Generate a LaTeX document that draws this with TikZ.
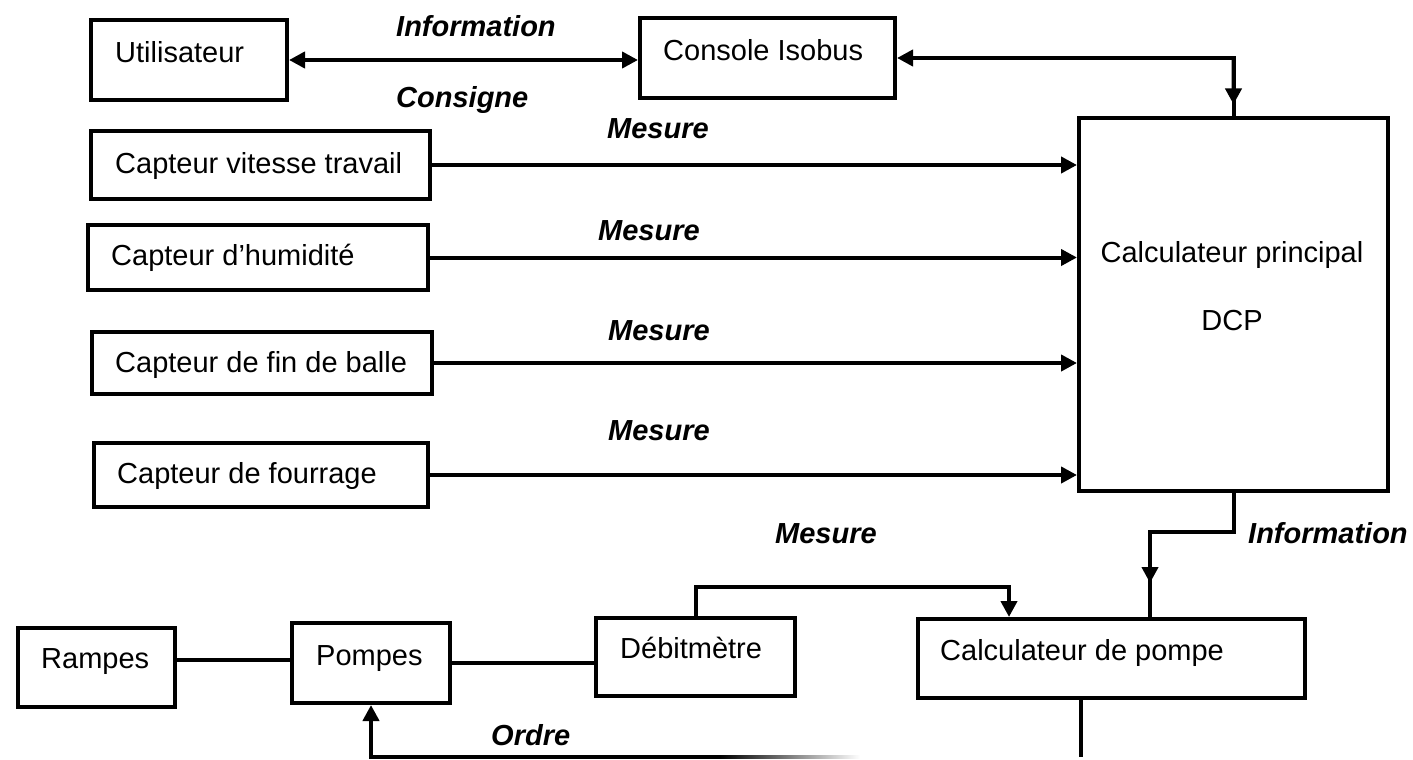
\documentclass[tikz,border=0pt]{standalone}
\usepackage{fontspec}
\setmainfont{Liberation Sans}
\usetikzlibrary{arrows.meta,calc}

\tikzset{
    boite/.style={draw, line width=4pt, inner sep=0pt},
    texte/.style={anchor=mid west, inner sep=0pt, font=\fontsize{29}{34}\selectfont},
    etiq/.style={anchor=mid west, inner sep=0pt, font=\fontsize{29}{34}\selectfont\bfseries\itshape},
    lien/.style={line width=4pt},
    fleche/.style={lien, -{Triangle[length=16pt,width=16pt]}},
    dfleche/.style={lien, {Triangle[length=16pt,width=16pt]}-{Triangle[length=16pt,width=16pt]}},
    gfleche/.style={lien, {Triangle[length=16pt,width=16pt]}-}
}

\begin{document}
\begin{tikzpicture}[x=1pt, y=-1pt]
                    \useasboundingbox (0,0) rectangle (1413,760);
                    \node[boite, minimum width=196pt, minimum height=80pt] (util) at (189,60) {};
                    \node[boite, minimum width=255pt, minimum height=80pt] (console) at (767.5,58) {};
                    \node[boite, minimum width=339pt, minimum height=68pt] (vitesse) at (260.5,165) {};
                    \node[boite, minimum width=340pt, minimum height=65pt] (humid) at (258,257.5) {};
                    \node[boite, minimum width=340pt, minimum height=62pt] (balle) at (262,363) {};
                    \node[boite, minimum width=334pt, minimum height=64pt] (fourrage) at (261,475) {};
                    \node[boite, minimum width=309pt, minimum height=373pt] (dcp) at (1233.5,304.5) {};
                    \node[boite, minimum width=157pt, minimum height=79pt] (rampes) at (96.5,667.5) {};
                    \node[boite, minimum width=158pt, minimum height=80pt] (pompes) at (371,663) {};
                    \node[boite, minimum width=199pt, minimum height=78pt] (debit) at (695.5,657) {};
                    \node[boite, minimum width=387pt, minimum height=79pt] (calcp) at (1111.5,658.5) {};
                    \node[texte] (tUtil) at (115,60) {Utilisateur};
                    \node[texte] (tConsole) at (663,58) {Console Isobus};
                    \node[texte] (tVitesse) at (115,171) {Capteur vitesse travail};
                    \node[texte] (tHumid) at (111,263) {Capteur d’humidité};
                    \node[texte] (tBalle) at (115,370) {Capteur de fin de balle};
                    \node[texte] (tFourrage) at (117,481) {Capteur de fourrage};
                    \node[texte, anchor=mid] (tDcpA) at (1232,260) {Calculateur principal};
                    \node[texte, anchor=mid] (tDcpB) at (1232,328) {DCP};
                    \node[texte] (tRampes) at (41,666) {Rampes};
                    \node[texte] (tPompes) at (316,663) {Pompes};
                    \node[texte] (tDebit) at (620,656) {Débitmètre};
                    \node[texte] (tCalcp) at (940,658) {Calculateur de pompe};
                    \node[etiq] (eInfoA) at (396,34) {Information};
                    \node[etiq] (eConsigne) at (396,105) {Consigne};
                    \node[etiq] (eMesA) at (607,136) {Mesure};
                    \node[etiq] (eMesB) at (598,238) {Mesure};
                    \node[etiq] (eMesC) at (608,338) {Mesure};
                    \node[etiq] (eMesD) at (608,438) {Mesure};
                    \node[etiq] (eMesE) at (775,541) {Mesure};
                    \node[etiq] (eInfoB) at (1248,541) {Information};
                    \node[etiq] (eOrdre) at (491,743) {Ordre};
                    \coordinate (coude) at (console.east -| dcp.north);
                    \coordinate (infoB) at (1150,532);
                    \coordinate (mesB) at (1009,587);
                    \coordinate (ordreA) at (1081,757);
                    \coordinate (ordreB) at (720,757);
                    \draw[dfleche] (util.east) -- (util.east -| console.west);
                    \draw[gfleche] (console.east) -- (coude) -- (dcp.north);
                    \draw[fleche] (coude) -- ($(coude)!0.8!(dcp.north)$);
                    \draw[fleche] (vitesse.east) -- (vitesse.east -| dcp.west);
                    \draw[fleche] (humid.east) -- (humid.east -| dcp.west);
                    \draw[fleche] (balle.east) -- (balle.east -| dcp.west);
                    \draw[fleche] (fourrage.east) -- (fourrage.east -| dcp.west);
                    \draw[lien] (dcp.south) |- (infoB) -- (infoB |- calcp.north);
                    \draw[fleche] (infoB) -- ($(infoB)!0.6!(infoB |- calcp.north)$);
                    \draw[fleche] (debit.north) |- (mesB) -- (mesB |- calcp.north);
                    \draw[lien] ([yshift=7.5pt]rampes.east) -- ([yshift=7.5pt]rampes.east -| pompes.west);
                    \draw[lien] (pompes.east) -- (pompes.east -| debit.west);
                    \draw[lien] (calcp.south -| ordreA) -- (ordreA);
                    \draw[fleche] (ordreB) -- (ordreB -| pompes.south) -- (pompes.south);
                    \shade[left color=black, right color=white] (720,755.5) rectangle (860,758.5);
                \end{tikzpicture}
\end{document}
